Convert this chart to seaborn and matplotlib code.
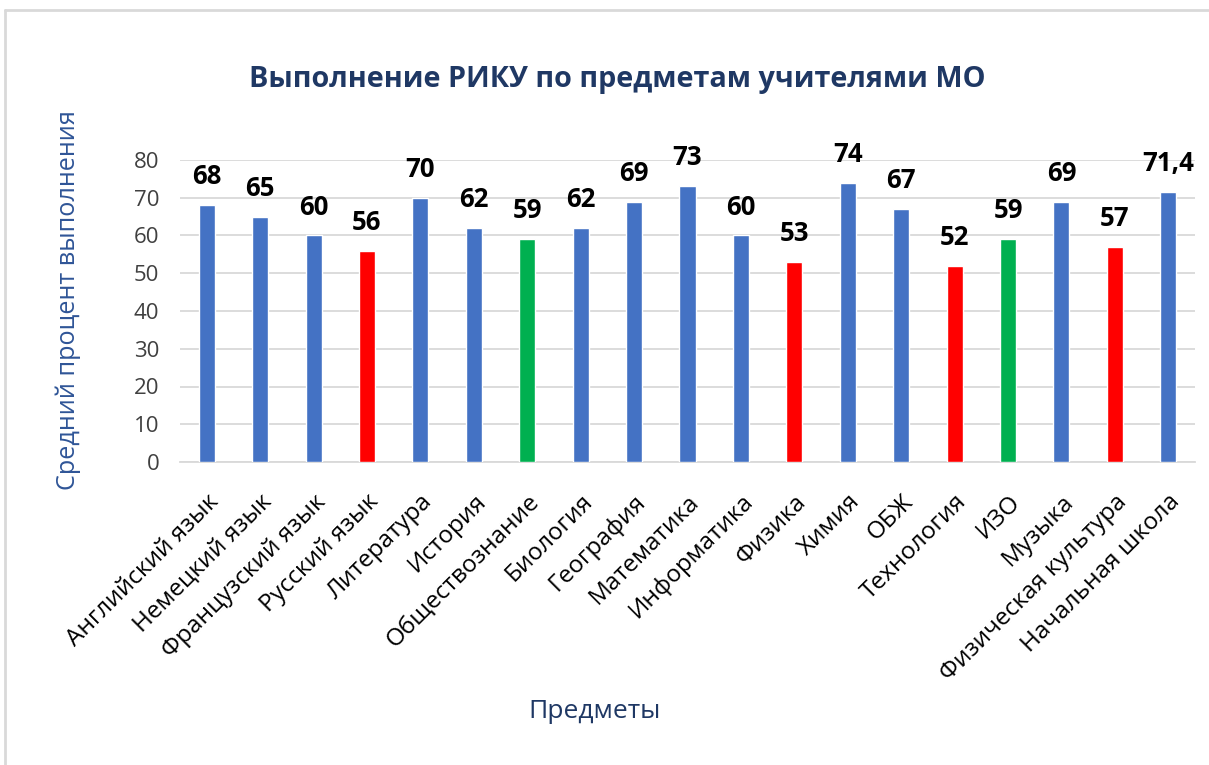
import matplotlib
matplotlib.use("Agg")
import matplotlib.pyplot as plt
import seaborn as sns
import pandas as pd
from matplotlib.lines import Line2D

subjects = [
    "Английский язык", "Немецкий язык", "Французский язык", "Русский язык",
    "Литература", "История", "Обществознание", "Биология", "География",
    "Математика", "Информатика", "Физика", "Химия", "ОБЖ", "Технология",
    "ИЗО", "Музыка", "Физическая культура", "Начальная школа",
]
scores = [68, 65, 60, 56, 70, 62, 59, 62, 69, 73, 60, 53, 74, 67, 52, 59, 69, 57, 71.4]
groups = ["b", "b", "b", "r", "b", "b", "g", "b", "b", "b", "b", "r", "b", "b", "r", "g", "b", "r", "b"]
group_colors = {"b": "#4472C4", "r": "#FF0000", "g": "#00B050"}
y_ticks = [0, 10, 20, 30, 40, 50, 60, 70, 80]

sns.set_theme(style="white")
plt.rcParams["font.family"] = ["Open Sans", "DejaVu Sans"]

df = pd.DataFrame({"subject": subjects, "score": scores, "group": groups})
palette = {s: group_colors[g] for s, g in zip(subjects, groups)}

W, H = 1209, 765
fig = plt.figure(figsize=(W / 100, H / 100), dpi=100)
ax = fig.add_axes([180 / W, 1 - 462 / H, 1015 / W, 302 / H])

sns.barplot(data=df, x="subject", y="score", hue="subject", palette=palette,
            width=0.3, legend=False, ax=ax, saturation=1, zorder=3)

ax.set_xlim(-0.5, len(subjects) - 0.5)
ax.set_ylim(0, 80)
ax.set_yticks(y_ticks)
ax.set_yticklabels([str(t) for t in y_ticks], fontsize=16, color="#404040")
ax.tick_params(axis="y", length=0, pad=15)
ax.tick_params(axis="x", length=0, pad=20)
ax.set_xticks(range(len(subjects)))
ax.set_xticklabels(subjects, rotation=45, ha="right", rotation_mode="anchor",
                   fontsize=17.5, color="#000000")
ax.grid(axis="y", color="#D9D9D9", linewidth=1.3, zorder=0)
ax.set_axisbelow(True)
for side in ["left", "right", "top"]:
    ax.spines[side].set_visible(False)
ax.spines["bottom"].set_color("#D9D9D9")
ax.spines["bottom"].set_linewidth(1.3)
ax.set_xlabel("")
ax.set_ylabel("")

for i, v in enumerate(scores):
    txt = f"{v:g}".replace(".", ",")
    ax.annotate(txt, (i, v), xytext=(0, 20.5), textcoords="offset points",
                ha="center", va="center", fontsize=18.5, fontweight="bold",
                color="#000000", clip_on=False, annotation_clip=False)

fig.text(617 / W, 1 - 80 / H, "Выполнение РИКУ по предметам учителями МО",
         ha="center", va="center", fontsize=20.7, fontweight="bold", color="#1F3864")
fig.text(68 / W, 1 - 300 / H, "Средний процент выполнения", rotation=90,
         ha="center", va="center", fontsize=18.2, color="#2F5597")
fig.text(595 / W, 1 - 712 / H, "Предметы", ha="center", va="center",
         fontsize=19, color="#1F3864")

# light frame around the chart area
fig.add_artist(Line2D([5 / W, 1], [1 - 10 / H, 1 - 10 / H], color="#D9D9D9",
                      linewidth=2, transform=fig.transFigure))
fig.add_artist(Line2D([5 / W, 5 / W], [0, 1 - 10 / H], color="#D9D9D9",
                      linewidth=2, transform=fig.transFigure))

fig.savefig("out.png", dpi=100, facecolor="white")
